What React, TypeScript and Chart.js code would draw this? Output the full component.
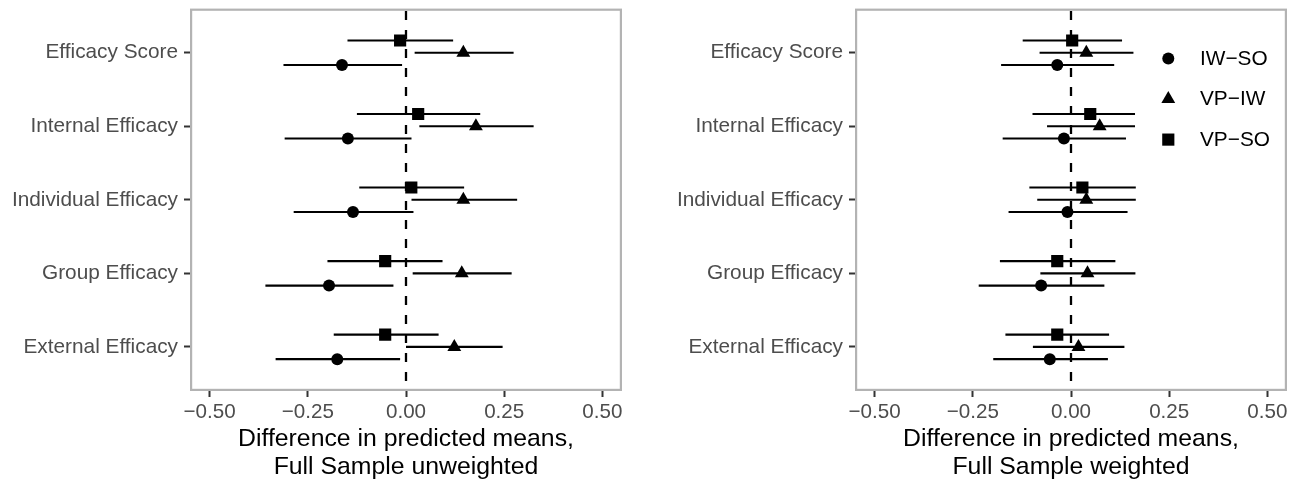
import React, { useEffect, useRef } from 'react';
import { Chart, registerables } from 'chart.js';

Chart.register(...registerables);

// ---------- data ----------
const categories = [
  'Efficacy Score',
  'Internal Efficacy',
  'Individual Efficacy',
  'Group Efficacy',
  'External Efficacy',
];
const seriesNames = ['IW−SO', 'VP−IW', 'VP−SO'];
const xTickValues = [-0.5, -0.25, 0, 0.25, 0.5];
const xMin = -0.55;
const xMax = 0.55;

// Full sample, unweighted
const unwIwSoEst = [-0.163, -0.148, -0.135, -0.196, -0.175];
const unwIwSoLo = [-0.312, -0.309, -0.286, -0.358, -0.332];
const unwIwSoHi = [-0.010, 0.014, 0.019, -0.032, -0.015];
const unwVpIwEst = [0.146, 0.178, 0.146, 0.142, 0.123];
const unwVpIwLo = [0.022, 0.034, 0.014, 0.017, 0.0];
const unwVpIwHi = [0.274, 0.325, 0.283, 0.269, 0.246];
const unwVpSoEst = [-0.015, 0.031, 0.0135, -0.053, -0.053];
const unwVpSoLo = [-0.149, -0.125, -0.119, -0.2, -0.184];
const unwVpSoHi = [0.12, 0.189, 0.148, 0.093, 0.083];

// Full sample, weighted
const wIwSoEst = [-0.035, -0.018, -0.009, -0.076, -0.054];
const wIwSoLo = [-0.178, -0.174, -0.159, -0.235, -0.198];
const wIwSoHi = [0.11, 0.14, 0.144, 0.085, 0.094];
const wVpIwEst = [0.039, 0.073, 0.039, 0.042, 0.019];
const wVpIwLo = [-0.08, -0.061, -0.086, -0.078, -0.097];
const wVpIwHi = [0.159, 0.163, 0.165, 0.164, 0.136];
const wVpSoEst = [0.003, 0.049, 0.029, -0.035, -0.035];
const wVpSoLo = [-0.123, -0.098, -0.106, -0.181, -0.167];
const wVpSoHi = [0.13, 0.163, 0.165, 0.113, 0.097];

const unwTitle = ['Difference in predicted means,', 'Full Sample unweighted'];
const wTitle = ['Difference in predicted means,', 'Full Sample weighted'];

// ---------- styling ----------
const FONT = '"Liberation Sans", Arial, Helvetica, sans-serif';
const dodge = [1 / 6, 0, -1 / 6]; // IW-SO lowest, VP-SO highest
const pointStyles = ['circle', 'triangle', 'rect'] as const;
const pointRadii = [6.0, 8.0, 8.6];

type Series = { est: number[]; lo: number[]; hi: number[] };

function drawMarker(ctx: CanvasRenderingContext2D, style: string, x: number, y: number, r: number) {
  ctx.beginPath();
  if (style === 'circle') {
    ctx.arc(x, y, r, 0, Math.PI * 2);
  } else if (style === 'triangle') {
    for (let k = 0; k < 3; k++) {
      const ang = (k * 2 * Math.PI) / 3;
      const px = x + Math.sin(ang) * r;
      const py = y - Math.cos(ang) * r;
      if (k === 0) ctx.moveTo(px, py);
      else ctx.lineTo(px, py);
    }
    ctx.closePath();
  } else {
    const s = Math.SQRT1_2 * r;
    ctx.rect(x - s, y - s, 2 * s, 2 * s);
  }
  ctx.fill();
}

function makeConfig(
  series: Series[],
  title: string[],
  yAxisWidth: number,
  padRight: number,
  showLegend: boolean
): any {
  const plugin = {
    id: 'forestExtras',
    beforeDatasetsDraw(chart: any) {
      const { ctx, chartArea: a, scales } = chart;
      const x = scales.x;
      const y = scales.y;
      ctx.save();
      ctx.strokeStyle = '#000';
      // dashed zero line
      const x0 = x.getPixelForValue(0);
      ctx.lineWidth = 2.3;
      ctx.setLineDash([9, 10]);
      ctx.lineDashOffset = -2.3;
      ctx.beginPath();
      ctx.moveTo(x0, a.top);
      ctx.lineTo(x0, a.bottom);
      ctx.stroke();
      ctx.setLineDash([]);
      // horizontal error bars
      ctx.lineWidth = 2.1;
      series.forEach((s, si) => {
        s.lo.forEach((lo, i) => {
          const yy = y.getPixelForValue(i + 1 + dodge[si]);
          ctx.beginPath();
          ctx.moveTo(x.getPixelForValue(lo), yy);
          ctx.lineTo(x.getPixelForValue(s.hi[i]), yy);
          ctx.stroke();
        });
      });
      ctx.restore();
    },
    afterDraw(chart: any) {
      const { ctx, chartArea: a } = chart;
      ctx.save();
      // panel border
      ctx.strokeStyle = '#B3B3B3';
      ctx.lineWidth = 2.2;
      ctx.strokeRect(a.left + 1.1, a.top + 1.1, a.right - a.left - 2.2, a.bottom - a.top - 2.2);
      // axis title
      ctx.fillStyle = '#000';
      ctx.font = `24.8px ${FONT}`;
      ctx.textAlign = 'center';
      ctx.textBaseline = 'alphabetic';
      const cx = (a.left + a.right) / 2;
      ctx.fillText(title[0], cx, 446);
      ctx.fillText(title[1], cx, 474);
      // legend
      if (showLegend) {
        const rows = [50, 90.5, 131];
        ctx.font = `20.8px ${FONT}`;
        ctx.textAlign = 'left';
        ctx.textBaseline = 'middle';
        seriesNames.forEach((name, i) => {
          const yy = a.top + rows[i];
          drawMarker(ctx, pointStyles[i], a.right - 118.7, yy, pointRadii[i]);
          ctx.fillText(name, a.right - 87, yy + 0.5);
        });
      }
      ctx.restore();
    },
  };

  const zeroPad = (scale: any) => {
    scale.paddingTop = 0;
    scale.paddingBottom = 0;
    scale.paddingLeft = 0;
    scale.paddingRight = 0;
  };

  return {
    type: 'scatter',
    data: {
      datasets: series.map((s, si) => ({
        label: seriesNames[si],
        data: s.est.map((v, i) => ({ x: v, y: i + 1 + dodge[si] })),
        pointStyle: pointStyles[si],
        radius: pointRadii[si],
        hoverRadius: pointRadii[si],
        backgroundColor: '#000',
        borderColor: '#000',
        borderWidth: 0,
        showLine: false,
      })),
    },
    options: {
      responsive: false,
      animation: false,
      events: [],
      layout: { padding: { top: 6, right: padRight, bottom: 0, left: 0 } },
      plugins: { legend: { display: false }, tooltip: { enabled: false }, title: { display: false } },
      scales: {
        x: {
          type: 'linear',
          min: xMin,
          max: xMax,
          afterBuildTicks: (scale: any) => {
            scale.ticks = xTickValues.map((v) => ({ value: v }));
          },
          afterFit: (scale: any) => {
            scale.height = 92;
            zeroPad(scale);
          },
          ticks: {
            autoSkip: false,
            maxRotation: 0,
            minRotation: 0,
            padding: 3,
            color: '#4D4D4D',
            font: { family: FONT, size: 20.6 },
            callback: (v: any) => Number(v).toFixed(2).replace('-', '−'),
          },
          grid: {
            display: true,
            drawOnChartArea: false,
            drawTicks: true,
            tickLength: 6,
            tickColor: '#333333',
            tickWidth: 2,
          },
          border: { display: false },
        },
        y: {
          type: 'linear',
          reverse: true,
          min: 0.4,
          max: 5.6,
          afterBuildTicks: (scale: any) => {
            scale.ticks = categories.map((_, i) => ({ value: i + 1 }));
          },
          afterFit: (scale: any) => {
            scale.width = yAxisWidth;
            zeroPad(scale);
          },
          ticks: {
            autoSkip: false,
            padding: 6,
            color: '#4D4D4D',
            font: { family: FONT, size: 20.8 },
            callback: (v: any) => categories[Math.round(Number(v)) - 1],
          },
          grid: {
            display: true,
            drawOnChartArea: false,
            drawTicks: true,
            tickLength: 6,
            tickColor: '#333333',
            tickWidth: 2,
          },
          border: { display: false },
        },
      },
    },
    plugins: [plugin],
  };
}

export default function App() {
  const leftRef = useRef<HTMLCanvasElement | null>(null);
  const rightRef = useRef<HTMLCanvasElement | null>(null);

  useEffect(() => {
    const unweighted: Series[] = [
      { est: unwIwSoEst, lo: unwIwSoLo, hi: unwIwSoHi },
      { est: unwVpIwEst, lo: unwVpIwLo, hi: unwVpIwHi },
      { est: unwVpSoEst, lo: unwVpSoLo, hi: unwVpSoHi },
    ];
    const weighted: Series[] = [
      { est: wIwSoEst, lo: wIwSoLo, hi: wIwSoHi },
      { est: wVpIwEst, lo: wVpIwLo, hi: wVpIwHi },
      { est: wVpSoEst, lo: wVpSoLo, hi: wVpSoHi },
    ];
    const c1 = new Chart(leftRef.current as HTMLCanvasElement, makeConfig(unweighted, unwTitle, 190, 23, false));
    const c2 = new Chart(rightRef.current as HTMLCanvasElement, makeConfig(weighted, wTitle, 210, 12, true));
    return () => {
      c1.destroy();
      c2.destroy();
    };
  }, []);

  return (
    <div style={{ position: 'absolute', left: 0, top: 0, width: 1299, height: 483, background: '#fff' }}>
      <canvas
        ref={leftRef}
        width={645}
        height={483}
        style={{ position: 'absolute', left: 0, top: 0, width: 645, height: 483 }}
      />
      <canvas
        ref={rightRef}
        width={654}
        height={483}
        style={{ position: 'absolute', left: 645, top: 0, width: 654, height: 483 }}
      />
    </div>
  );
}
